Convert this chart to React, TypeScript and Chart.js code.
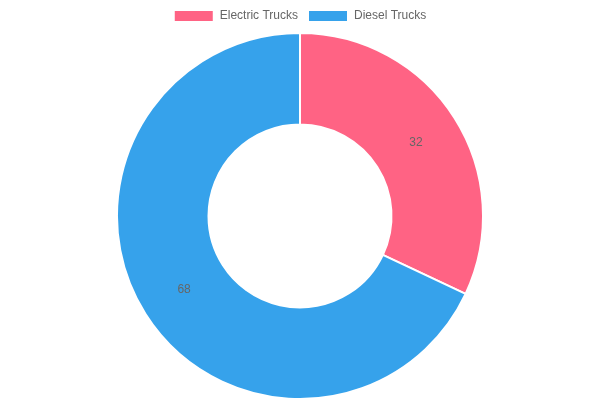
import React, { useEffect, useRef } from 'react';
import { Chart, registerables, Plugin } from 'chart.js';

Chart.register(...registerables);

const labels = ['Electric Trucks', 'Diesel Trucks'];
const values = [32, 68];
const colors = ['#ff6384', '#36a2eb'];

// draw each value at the centre of its slice
const sliceLabels: Plugin<'doughnut'> = {
  id: 'sliceLabels',
  afterDatasetsDraw(chart) {
    const ctx = chart.ctx;
    const meta = chart.getDatasetMeta(0);
    ctx.save();
    ctx.font = '12px "Helvetica Neue", Helvetica, Arial, sans-serif';
    ctx.fillStyle = '#666';
    ctx.textAlign = 'center';
    ctx.textBaseline = 'middle';
    meta.data.forEach((arc, i) => {
      const p = (arc as any).tooltipPosition();
      ctx.fillText(String(values[i]), p.x, p.y);
    });
    ctx.restore();
  },
};

const App: React.FC = () => {
  const canvasRef = useRef<HTMLCanvasElement | null>(null);

  useEffect(() => {
    document.body.style.margin = '0';
    if (!canvasRef.current) return;
    const chart = new Chart(canvasRef.current, {
      type: 'doughnut',
      data: {
        labels,
        datasets: [
          {
            data: values,
            backgroundColor: colors,
            borderColor: '#fff',
            borderWidth: 2,
          },
        ],
      },
      options: {
        animation: false,
        responsive: true,
        maintainAspectRatio: false,
        plugins: {
          legend: {
            position: 'top',
            labels: { color: '#666', font: { size: 12 } },
          },
          tooltip: { enabled: false },
        },
      },
      plugins: [sliceLabels],
    });
    return () => chart.destroy();
  }, []);

  return (
    <div style={{ width: 600, height: 400, position: 'relative' }}>
      <canvas ref={canvasRef}></canvas>
    </div>
  );
};

export default App;
